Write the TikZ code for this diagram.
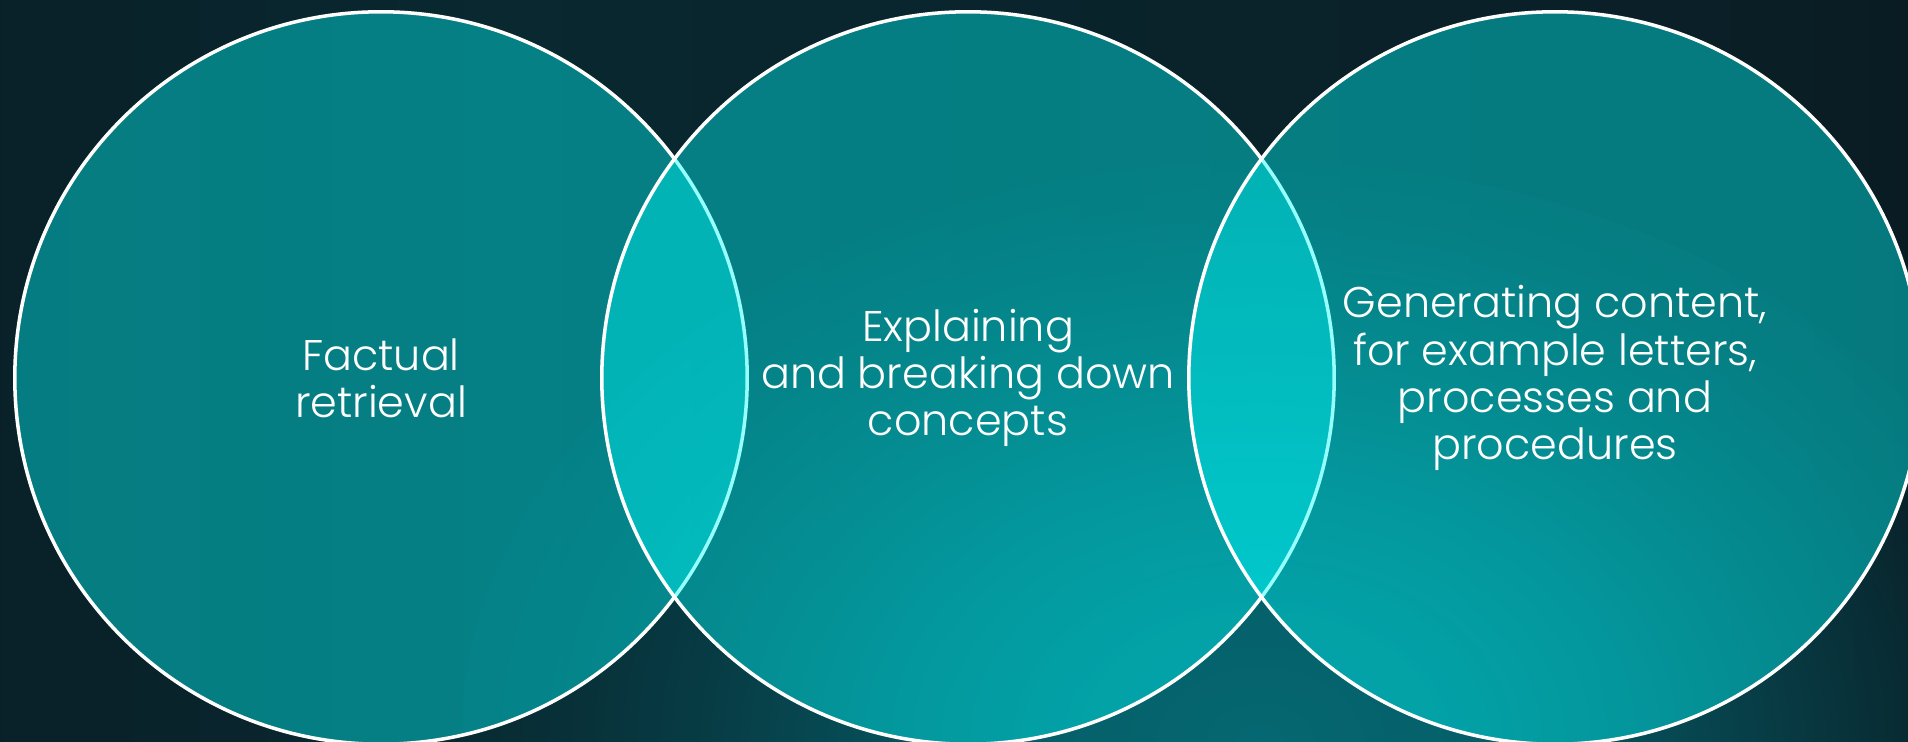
\documentclass[tikz,border=0pt]{standalone}
\usepackage{fontspec}
\setmainfont{Poppins}[UprightFont=* Light]
\usetikzlibrary{fadings}
\usepackage{xcolor}

\definecolor{bgleft}{RGB}{8,18,26}
\definecolor{bgmid}{RGB}{9,40,48}
\definecolor{bgmidr}{RGB}{10,30,38}
\definecolor{bgright}{RGB}{13,10,12}
\definecolor{glowteal}{RGB}{5,104,114}
\definecolor{bubblecyan}{RGB}{0,255,255}

\pgfdeclarehorizontalshading{backdrop}{100bp}{color(0bp)=(bgleft); color(38bp)=(bgmid); color(72bp)=(bgmidr); color(93bp)=(bgright); color(100bp)=(bgright)}
% smooth falloff, so the rim of the glow shows no crease
\pgfdeclareradialshading{glowspot}{\pgfpointorigin}{rgb(0bp)=(1,1,1); rgb(5bp)=(0.9,0.9,0.9); rgb(10bp)=(0.65,0.65,0.65); rgb(15bp)=(0.35,0.35,0.35); rgb(20bp)=(0.1,0.1,0.1); rgb(22.5bp)=(0.03,0.03,0.03); rgb(25bp)=(0,0,0); rgb(50bp)=(0,0,0)}
\begin{tikzfadingfrompicture}[name=glowfade]
	\shade[shading=glowspot] (0,0) circle (1);
\end{tikzfadingfrompicture}

\begin{document}
\begin{tikzpicture}[x=0.01cm, y=0.01cm,
    bubble/.style={circle, minimum size=7.32cm, inner sep=0pt, draw=white, line width=1pt,
      fill=bubblecyan, fill opacity=0.41, text opacity=1, text=white, align=center,
      font=\fontsize{12.2}{13.4}\selectfont}]
	\useasboundingbox (0,0) rectangle (1908,742);
	\clip (0,0) rectangle (1908,742);
	% backdrop and glow
	\shade[shading=backdrop] (0,0) rectangle (1908,742);
	\fill[glowteal, path fading=glowfade] (1260,0) ellipse (800 and 580);
	
	\draw (381,364) node[bubble] (fact) {Factual\\retrieval}
		(968,364) node[bubble] (expl) {Explaining\\and breaking down\\concepts}
		(1555,364) node[bubble] (gen) {Generating content,\\for example letters,\\processes and\\procedures};
\end{tikzpicture}
\end{document}
